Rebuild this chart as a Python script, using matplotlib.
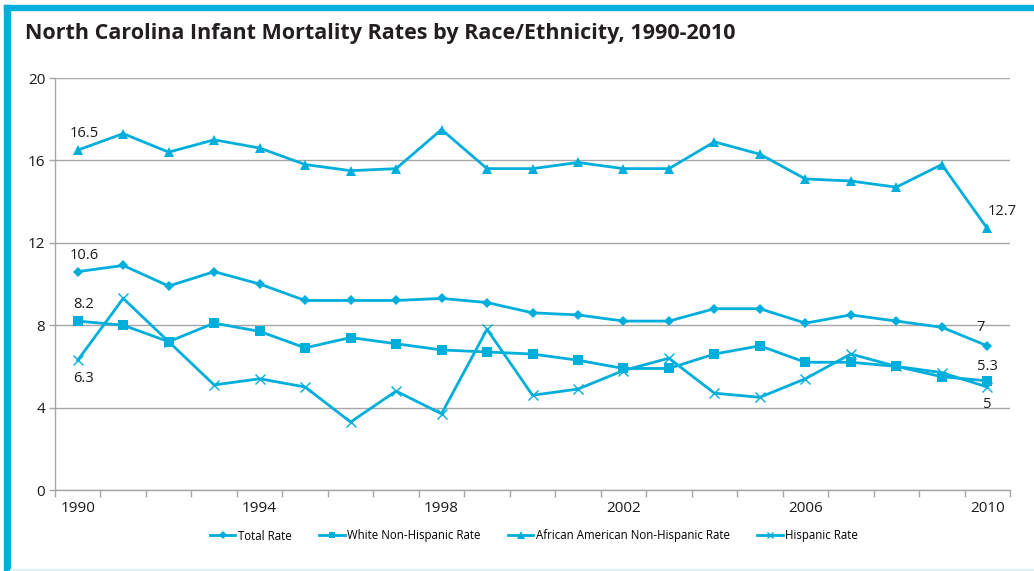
import matplotlib
matplotlib.use("Agg")
import matplotlib.pyplot as plt
from matplotlib.patches import Rectangle
import numpy as np

years = list(range(1990, 2011))
tick_years = [1990, 1994, 1998, 2002, 2006, 2010]
total = [10.6, 10.9, 9.9, 10.6, 10.0, 9.2, 9.2, 9.2, 9.3, 9.1, 8.6, 8.5, 8.2, 8.2, 8.8, 8.8, 8.1, 8.5, 8.2, 7.9, 7.0]
white = [8.2, 8.0, 7.2, 8.1, 7.7, 6.9, 7.4, 7.1, 6.8, 6.7, 6.6, 6.3, 5.9, 5.9, 6.6, 7.0, 6.2, 6.2, 6.0, 5.5, 5.3]
african = [16.5, 17.3, 16.4, 17.0, 16.6, 15.8, 15.5, 15.6, 17.5, 15.6, 15.6, 15.9, 15.6, 15.6, 16.9, 16.3, 15.1, 15.0, 14.7, 15.8, 12.7]
hispanic = [6.3, 9.3, 7.2, 5.1, 5.4, 5.0, 3.3, 4.8, 3.7, 7.8, 4.6, 4.9, 5.8, 6.4, 4.7, 4.5, 5.4, 6.6, 6.0, 5.7, 5.0]
series_names = ["Total Rate", "White Non-Hispanic Rate", "African American Non-Hispanic Rate", "Hispanic Rate"]

C = "#00AEDB"
GRID = "#A6A6A6"
FONT = "Open Sans"

fig = plt.figure(figsize=(10.34, 5.71), dpi=100)
W, H = 1034, 571

# frame
fig.patches.append(Rectangle((4 / W, 1 - 10 / H), 1, 5 / H, transform=fig.transFigure, color=C, zorder=0))
fig.patches.append(Rectangle((4 / W, 0), 6 / W, 1 - 5 / H, transform=fig.transFigure, color=C, zorder=0))
fig.patches.append(Rectangle((10 / W, 0), 1, 2.5 / H, transform=fig.transFigure, color="#DDF3FA", zorder=0))

ax = fig.add_axes([55 / W, 1 - 490 / H, (1010 - 55) / W, (490 - 78) / H])
x = np.arange(len(years))

markers = [("D", 5.5), ("s", 7), ("^", 7.5), ("x", 6.5)]
datas = [total, white, african, hispanic]
for d, (m, ms), name in zip(datas, markers, series_names):
    kw = dict(markeredgewidth=1.0) if m == "x" else dict(markeredgewidth=0)
    ax.plot(x, d, color=C, lw=2, marker=m, markersize=ms, label=name, **kw, clip_on=False)

ax.set_xlim(-0.5, len(years) - 0.5)
ax.set_ylim(0, 20)
ax.set_yticks([0, 4, 8, 12, 16, 20])
ax.yaxis.grid(True, color=GRID, lw=1)
ax.set_axisbelow(True)
for s in ["top", "right"]:
    ax.spines[s].set_visible(False)
for s in ["left", "bottom"]:
    ax.spines[s].set_color(GRID)
    ax.spines[s].set_linewidth(1)

ax.set_xticks([years.index(y) for y in tick_years])
ax.set_xticklabels([str(y) for y in tick_years])
ax.set_xticks(np.arange(-0.5, len(years), 1), minor=True)
ax.tick_params(axis="x", which="major", length=0, pad=8, labelsize=11, labelcolor="#1a1a1a")
ax.tick_params(axis="x", which="minor", length=5, color=GRID, width=1)
ax.tick_params(axis="y", length=4, color=GRID, width=1, labelsize=11, labelcolor="#1a1a1a", pad=3)
for lbl in ax.get_xticklabels() + ax.get_yticklabels():
    lbl.set_fontfamily(FONT)

# data labels
lab_kw = dict(fontsize=10.5, color="#1a1a1a", family=FONT)
ax.annotate("16.5", (0, african[0]), xytext=(5, 6.5), textcoords="offset points", ha="center", va="bottom", **lab_kw)
ax.annotate("10.6", (0, total[0]), xytext=(5, 6.5), textcoords="offset points", ha="center", va="bottom", **lab_kw)
ax.annotate("8.2", (0, white[0]), xytext=(4, 6.5), textcoords="offset points", ha="center", va="bottom", **lab_kw)
ax.annotate("6.3", (0, hispanic[0]), xytext=(4, -8), textcoords="offset points", ha="center", va="top", **lab_kw)
n = len(years) - 1
ax.annotate("12.7", (n, african[n]), xytext=(11, 7), textcoords="offset points", ha="center", va="bottom", **lab_kw)
ax.annotate("7", (n, total[n]), xytext=(-5, 8), textcoords="offset points", ha="center", va="bottom", **lab_kw)
ax.annotate("5.3", (n, white[n]), xytext=(0, 5), textcoords="offset points", ha="center", va="bottom", **lab_kw)
ax.annotate("5", (n, hispanic[n]), xytext=(0, -7), textcoords="offset points", ha="center", va="top", **lab_kw)

fig.text(25 / W, 1 - 33 / H, "North Carolina Infant Mortality Rates by Race/Ethnicity, 1990-2010",
         fontsize=15.5, fontweight="bold", family=FONT, color="#231f20", va="center", ha="left")

leg = fig.legend(loc="center", bbox_to_anchor=(534 / W, 1 - 536 / H), ncol=4, frameon=False,
                 prop={"family": FONT, "size": 8.3}, handlelength=2.2, handletextpad=0.2, columnspacing=2.4,
                 markerscale=0.7)

fig.savefig("out.png", dpi=100)
